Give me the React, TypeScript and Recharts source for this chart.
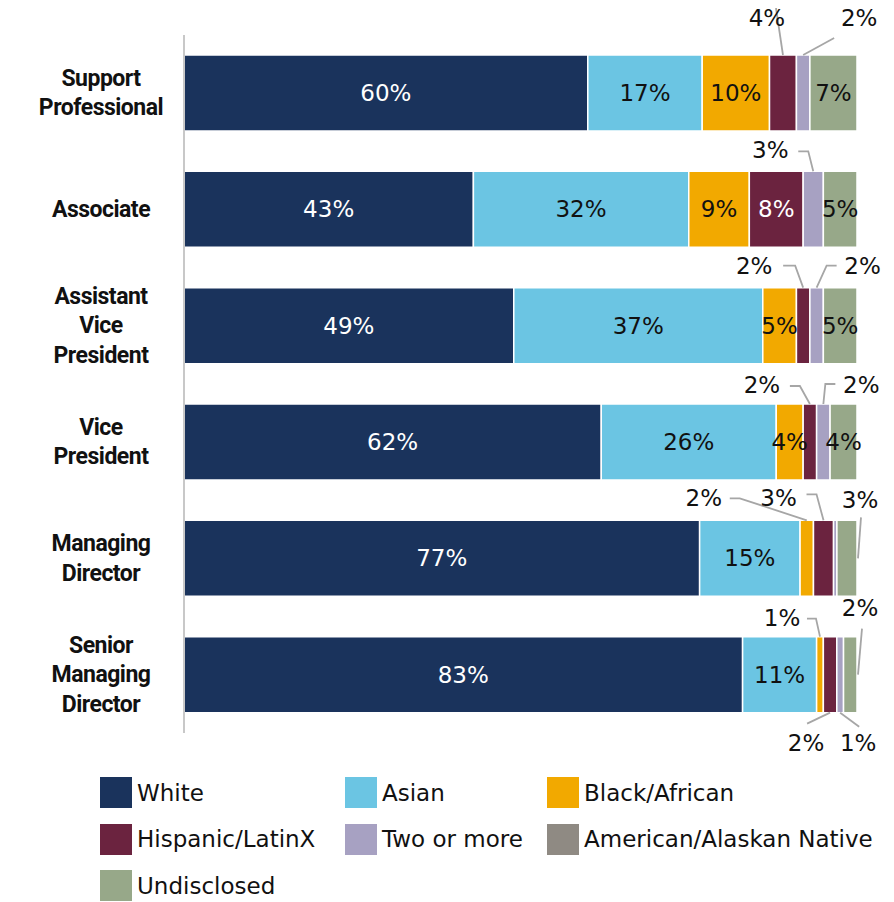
import { BarChart, Bar, XAxis, YAxis, LabelList } from 'recharts'

const categories = [
  'Support Professional',
  'Associate',
  'Assistant Vice President',
  'Vice President',
  'Managing Director',
  'Senior Managing Director',
]
const white = [60, 43, 49, 62, 77, 83]
const asian = [17, 32, 37, 26, 15, 11]
const black = [10, 9, 5, 4, 2, 1]
const hispanic = [4, 8, 2, 2, 3, 2]
const twoOrMore = [2, 3, 2, 2, 0.5, 1]
const nativeAm = [0, 0, 0, 0, 0, 0]
const undisclosed = [7, 5, 5, 4, 3, 2]

const FONT = '"DejaVu Sans", sans-serif'
const BOLD_FONT = 'Roboto, "Liberation Sans", sans-serif'

const series = [
  { key: 'white', name: 'White', color: '#1a335c', text: '#ffffff', values: white },
  { key: 'asian', name: 'Asian', color: '#6bc5e3', text: '#111111', values: asian },
  { key: 'black', name: 'Black/African', color: '#f2a900', text: '#111111', values: black },
  { key: 'hispanic', name: 'Hispanic/LatinX', color: '#6b233f', text: '#ffffff', values: hispanic },
  { key: 'two', name: 'Two or more', color: '#a7a1c2', text: '#111111', values: twoOrMore },
  { key: 'native', name: 'American/Alaskan Native', color: '#8f8a83', text: '#111111', values: nativeAm },
  { key: 'undisclosed', name: 'Undisclosed', color: '#97a889', text: '#111111', values: undisclosed },
]

const data = categories.map((name, i) => {
  const row: Record<string, any> = { name }
  series.forEach((s) => (row[s.key] = s.values[i]))
  return row
})

// callout labels for the thin segments: text offset + leader line, relative to an anchor on the segment
type Callout = { anchor: 'top' | 'bottom' | 'right'; tx: number; ty: number; pts: number[][] }
const callouts: Record<string, Record<number, Callout>> = {
  hispanic: {
    0: { anchor: 'top', tx: -16, ty: -37, pts: [[-7, -47], [0, 0]] },
    2: { anchor: 'top', tx: -49, ty: -22, pts: [[-20, -22], [-8, -22], [0, 0]] },
    3: { anchor: 'top', tx: -48, ty: -19, pts: [[-20, -18], [-10, -18], [0, 0]] },
    4: { anchor: 'top', tx: -45, ty: -22, pts: [[-17, -26], [-7, -26], [0, 0]] },
    5: { anchor: 'bottom', tx: -24, ty: 30, pts: [[-23, 11], [0, 0]] },
  },
  two: {
    0: { anchor: 'top', tx: 56, ty: -37, pts: [[31, -17], [0, 0]] },
    1: { anchor: 'top', tx: -43, ty: -21, pts: [[-15, -20], [-5, -20], [0, 0]] },
    2: { anchor: 'top', tx: 46, ty: -22, pts: [[20, -22], [10, -22], [0, 0]] },
    3: { anchor: 'top', tx: 38, ty: -19, pts: [[12, -20], [2, -20], [0, 0]] },
    5: { anchor: 'bottom', tx: 18, ty: 30, pts: [[19, 14], [0, 0]] },
  },
  black: {
    4: { anchor: 'top', tx: -103, ty: -22, pts: [[-77, -22], [-67, -22], [0, 0]] },
    5: { anchor: 'top', tx: -38, ty: -19, pts: [[-13, -18], [-4, -18], [0, 0]] },
  },
  undisclosed: {
    4: { anchor: 'right', tx: 3, ty: -58, pts: [[4, -41], [1, 0]] },
    5: { anchor: 'right', tx: 3, ty: -67, pts: [[5, -46], [1, 0]] },
  },
}

function makeLabel(key: string, color: string) {
  return (props: any) => {
    const { index, value } = props
    const vb = props.viewBox || props
    const { x, y, width, height } = vb
    const c = callouts[key]?.[index]
    if (c) {
      const ax = c.anchor === 'right' ? x + width : x + width / 2
      const ay = c.anchor === 'top' ? y : c.anchor === 'bottom' ? y + height : y + height / 2
      const points = c.pts.map(([dx, dy]) => `${ax + dx},${ay + dy}`).join(' ')
      return (
        <g>
          <polyline points={points} fill="none" stroke="#a6a6a6" strokeWidth={1.8} />
          <text x={ax + c.tx} y={ay + c.ty} textAnchor="middle" dominantBaseline="central"
            fontFamily={FONT} fontSize={23} fill="#111">
            {Math.round(value)}%
          </text>
        </g>
      )
    }
    if (!value || value < 4) return null
    return (
      <text x={x + width / 2} y={y + height / 2} textAnchor="middle" dominantBaseline="central"
        fontFamily={FONT} fontSize={23} fill={color}>
        {Math.round(value)}%
      </text>
    )
  }
}

function CategoryTick(props: any) {
  const { y, payload } = props
  const lines = String(payload.value).split(' ')
  return (
    <text x={93} y={y} textAnchor="middle" fontFamily={BOLD_FONT} fontWeight="bold" fontSize={23}
      letterSpacing={-0.5} fill="#111">
      {lines.map((l, i) => (
        <tspan key={i} x={93} y={y + (i - (lines.length - 1) / 2) * 29.5} dominantBaseline="central">
          {l}
        </tspan>
      ))}
    </text>
  )
}

const legendCols = [92, 337, 539]

function ChartLegend() {
  return (
    <div style={{ position: 'absolute', left: 0, top: 769, width: 886 }}>
      {series.map((s, i) => (
        <div key={s.key} style={{
          position: 'absolute', left: legendCols[i % 3], top: Math.floor(i / 3) * 46.5,
          display: 'flex', alignItems: 'center', fontFamily: FONT, fontSize: 23, color: '#111', whiteSpace: 'nowrap',
        }}>
          <span style={{ display: 'inline-block', width: 32, height: 31, background: s.color, marginRight: 5 }} />
          {s.name}
        </div>
      ))}
    </div>
  )
}

export default function App() {
  return (
    <div style={{ position: 'relative', width: 886, height: 894 }}>
      <div style={{ position: 'absolute', left: 0, top: -8 }}>
        <BarChart width={878} height={768} data={data} layout="vertical" stackOffset="expand"
          style={{ overflow: 'visible' }}
          margin={{ top: 35, right: 29, bottom: 35, left: 0 }} barSize={76}>
          <XAxis type="number" hide domain={[0, 1]} />
          <YAxis type="category" dataKey="name" width={176} interval={0}
            axisLine={{ stroke: '#c8c8c8', strokeWidth: 2 }} tickLine={false} tick={<CategoryTick />} />
          {series.map((s) => (
            <Bar key={s.key} dataKey={s.key} name={s.name} stackId="a" fill={s.color}
              stroke="#ffffff" strokeWidth={1.5} isAnimationActive={false}>
              <LabelList dataKey={s.key} content={makeLabel(s.key, s.text)} />
            </Bar>
          ))}
        </BarChart>
      </div>
      <ChartLegend />
    </div>
  )
}
